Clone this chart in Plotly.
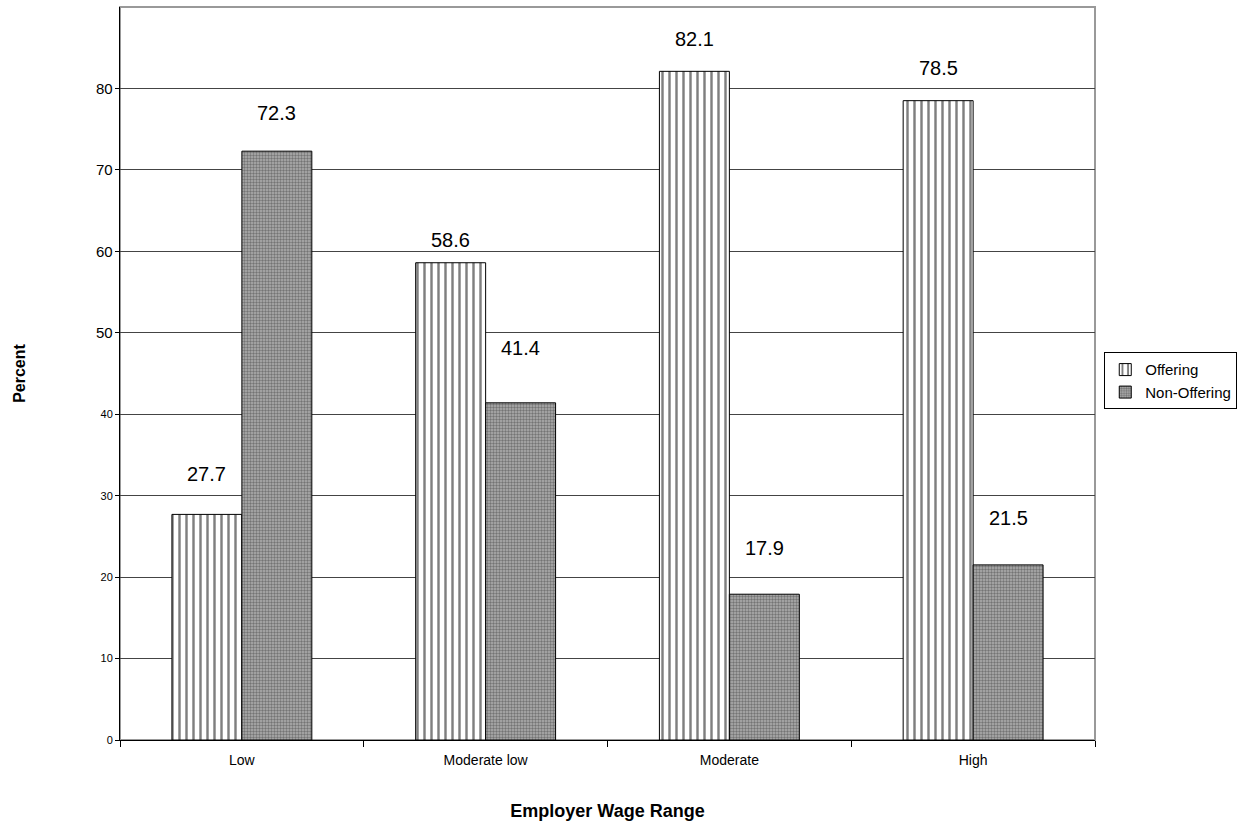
import plotly.graph_objects as go

categories = ["Low", "Moderate low", "Moderate", "High"]
offering = [27.7, 58.6, 82.1, 78.5]
non_offering = [72.3, 41.4, 17.9, 21.5]
y_ticks = [0, 10, 20, 30, 40, 50, 60, 70, 80]
y_ticks_small = [0, 10, 20, 30, 40]
y_ticks_large = [50, 60, 70, 80]
# label offsets (px above bar top) as placed in the original
off_label_shift = [40, 23, 32, 33]
non_label_shift = [38, 55, 46, 47]

FONT = "Liberation Sans, Arial, sans-serif"

fig = go.Figure()
fig.add_trace(go.Bar(
    name="Offering", x=categories, y=offering,
    marker=dict(color="white", line=dict(color="black", width=1),
                pattern=dict(shape="|", fgcolor="black", bgcolor="white",
                             size=7, solidity=0.35)),
))
fig.add_trace(go.Bar(
    name="Non-Offering", x=categories, y=non_offering,
    marker=dict(color="#888888", line=dict(color="black", width=1),
                pattern=dict(shape=".", fgcolor="#383838", bgcolor="#b0b0b0",
                             size=3, solidity=0.5)),
))

for i, c in enumerate(categories):
    fig.add_annotation(x=c, y=offering[i], xref="x", yref="y", text=f"{offering[i]:.1f}",
                       showarrow=False, xshift=-35, yshift=off_label_shift[i],
                       yanchor="middle", font=dict(size=20, color="black", family=FONT))
    fig.add_annotation(x=c, y=non_offering[i], xref="x", yref="y", text=f"{non_offering[i]:.1f}",
                       showarrow=False, xshift=35, yshift=non_label_shift[i],
                       yanchor="middle", font=dict(size=20, color="black", family=FONT))

# larger tick labels for the upper part of the y axis (as in the original)
for v in y_ticks_large:
    fig.add_annotation(x=0, xref="paper", y=v, yref="y", text=str(v),
                       showarrow=False, xanchor="right", yanchor="middle", xshift=-5,
                       font=dict(size=15, color="black", family=FONT))

# top/right gray border of plot area
fig.add_shape(type="rect", xref="paper", yref="paper", x0=0, x1=1, y0=0, y1=1,
              line=dict(color="#999999", width=2), layer="below")

fig.update_layout(
    width=1241, height=825,
    margin=dict(l=120, r=146, t=7, b=85, autoexpand=False),
    paper_bgcolor="white", plot_bgcolor="white",
    font=dict(family=FONT, color="black"),
    barmode="group", bargap=0.426, bargroupgap=0,
    showlegend=True,
    legend=dict(x=1.0095, y=0.49, xanchor="left", yanchor="middle",
                bordercolor="black", borderwidth=1, bgcolor="white",
                font=dict(size=15, family=FONT), tracegroupgap=0,
                itemwidth=30),
    xaxis=dict(
        automargin=False,
        showline=True, linecolor="black", linewidth=1,
        ticks="outside", tickson="boundaries", ticklen=6, tickcolor="black",
        ticklabelstandoff=7,
        tickfont=dict(size=14, family=FONT),
        title=dict(text="<b>Employer Wage Range</b>", font=dict(size=18, family=FONT), standoff=37),
        showgrid=False,
    ),
    yaxis=dict(
        automargin=False,
        range=[0, 90],
        tickvals=y_ticks,
        ticktext=[str(v) if v in y_ticks_small else "" for v in y_ticks],
        showline=True, linecolor="black", linewidth=1,
        ticks="outside", ticklen=4, tickcolor="black",
        tickfont=dict(size=11, family=FONT),
        showgrid=True, gridcolor="#444444", gridwidth=1,
        zeroline=False,
        title=dict(text="<b>Percent</b>", font=dict(size=16, family=FONT), standoff=70),
    ),
)

fig.write_html("out.html", config={"displayModeBar": False},
               post_script="document.body.style.margin='0';")
